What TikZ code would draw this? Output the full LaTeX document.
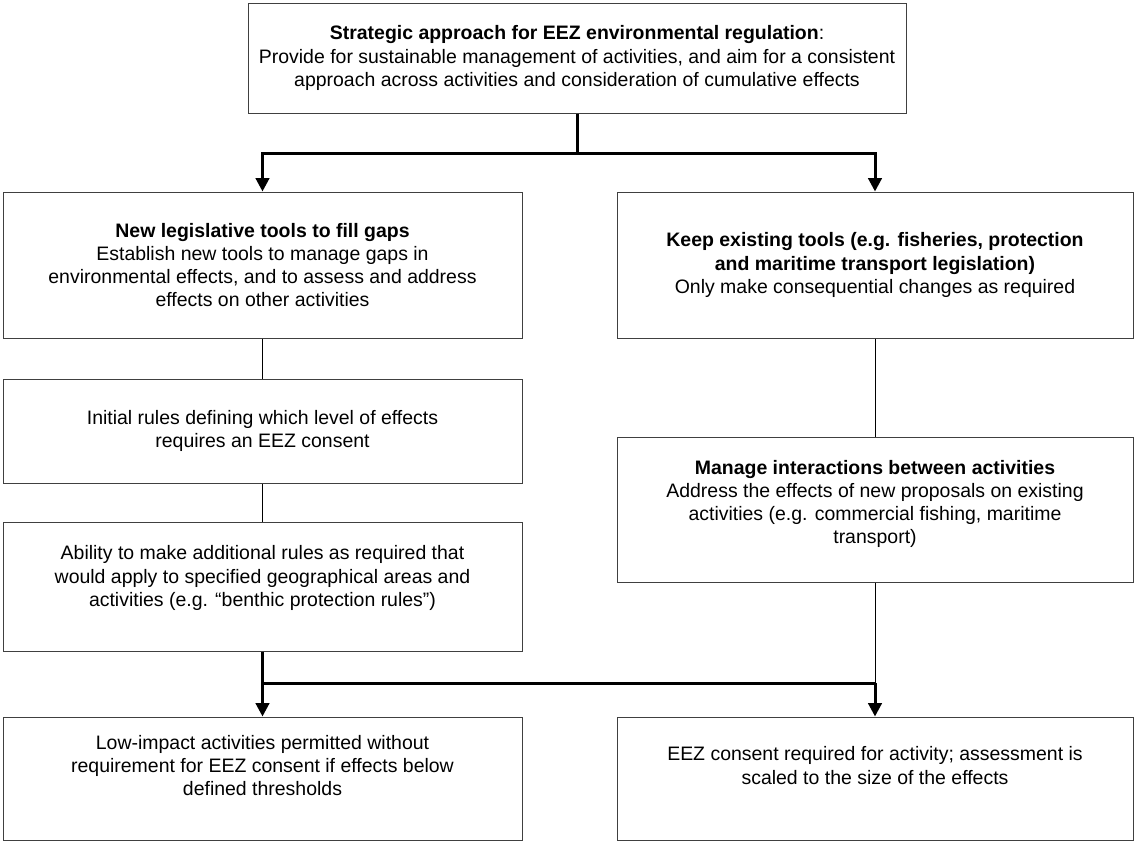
\documentclass[tikz,border=0pt]{standalone}
\usepackage{fontspec}
\setmainfont{Liberation Sans}
\usetikzlibrary{arrows.meta,calc}
\newcommand\liftlines[2]{\raisebox{#1}[\height][\depth]{\begin{tabular}{@{}c@{}}#2\end{tabular}}}
\begin{document}
\begin{tikzpicture}[x=0.75pt,y=-0.75pt,
  pbox/.style={draw=black!75,line width=0.75pt,align=center,inner sep=0pt,
    font=\fontsize{14.6}{17.4}\selectfont},
  sz/.style 2 args={minimum width={#1*0.75pt},minimum height={#2*0.75pt}},
  thinc/.style={draw=black,line width=0.75pt},
  thickc/.style={draw=black,line width=2.25pt},
  tip/.style={-{Triangle[width=10pt,length=10pt]}}]
\useasboundingbox (0,0) rectangle (1136,843);
\node[pbox,sz={658}{110}] (top) at (577,58)
  {\textbf{Strategic approach for EEZ environmental regulation}:\\
   Provide for sustainable management of activities, and aim for a consistent\\
   approach across activities and consideration of cumulative effects};
\node[pbox,sz={519}{146}] (l1) at (262.5,265)
  {\textbf{New legislative tools to fill gaps}\\
   Establish new tools to manage gaps in\\
   environmental effects, and to assess and address\\
   effects on other activities};
\node[pbox,sz={516}{146}] (r1) at (875,265)
  {\textbf{Keep existing tools (e.g. fisheries, protection}\\
   \textbf{and maritime transport legislation)}\\
   Only make consequential changes as required};
\node[pbox,sz={519}{104}] (l2) at (262.5,431)
  {Initial rules defining which level of effects\\
   requires an EEZ consent};
\node[pbox,sz={519}{129}] (l3) at (262.5,586.5)
  {\liftlines{6pt}{Ability to make additional rules as required that\\
   would apply to specified geographical areas and\\
   activities (e.g. “benthic protection rules”)}};
\node[pbox,sz={516}{145}] (r2) at (875,509.5)
  {\liftlines{4pt}{\textbf{Manage interactions between activities}\\
   Address the effects of new proposals on existing\\
   activities (e.g. commercial fishing, maritime\\
   transport)}};
\node[pbox,sz={519}{123}] (bl) at (262.5,778.5)
  {\liftlines{8pt}{Low-impact activities permitted without\\
   requirement for EEZ consent if effects below\\
   defined thresholds}};
\node[pbox,sz={516}{123}] (br) at (875,778.5)
  {\liftlines{8pt}{EEZ consent required for activity; assessment is\\
   scaled to the size of the effects}};
% top split
\coordinate (j1) at ($(top.south |- 0,153)$);
\draw[thickc] (top.south) -- (j1);
\draw[thickc,tip] (j1) -| (l1.north);
\draw[thickc,tip] (j1) -| (r1.north);
% thin links
\draw[thinc] (l1.south) -- (l2.north);
\draw[thinc] (l2.south) -- (l3.north);
\draw[thinc] (r1.south) -- (r2.north);
% bottom merge
\coordinate (j2) at ($(l3.south |- 0,683)$);
\coordinate (j3) at ($(r2.south |- 0,683)$);
\draw[thinc] (r2.south) -- (j3);
\draw[thickc] (j2) -- (j3);
\draw[thickc,tip] (l3.south) -- (bl.north);
\draw[thickc,tip] (j3) -- (br.north);
\end{tikzpicture}
\end{document}
